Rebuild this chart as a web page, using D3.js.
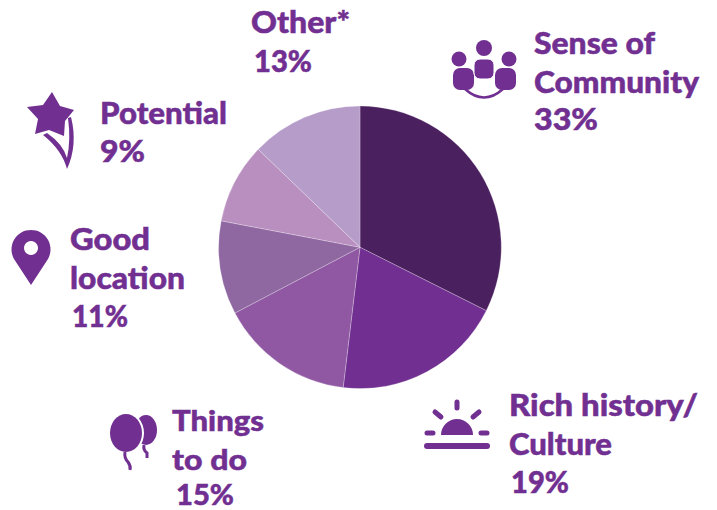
<!DOCTYPE html>
<html><head><meta charset="utf-8">
<style>html,body{margin:0;background:#fff}svg{display:block}</style>
<script src="https://cdn.jsdelivr.net/npm/d3@7"></script></head>
<body><script>
const categories=["Sense of Community","Rich history/Culture","Things to do","Good location","Potential","Other*"];
const statedPercent=["33%","19%","15%","11%","9%","13%"];
const sliceShares=[32.4,19.5,15.4,10.7,9.2,12.8];
const sliceColors=["#4a205f","#713091","#9058a3","#8f68a2","#b98fc0","#b69cc9"];
const nameLines=[["Sense of","Community"],["Rich history/","Culture"],["Things","to do"],["Good","location"],["Potential"],["Other*"]];
const labelX=[[534,534,534],[509,509,511],[172,172,176],[70,70,72],[100,100],[251,254]];
const labelY=[[54,93,130],[416,455,493],[431,470,505],[250,289,327],[124,162],[33,72]];
const labelW=[[121,165,64],[189,103,58],[92,75,58],[80,115,56],[127,45],[99,58]];
const W=717,H=510,cx=360,cy=247.3,R=141.3,ink="#713091";
const svg=d3.select("body").append("svg").attr("width",W).attr("height",H);
const pie=d3.pie().sort(null).value(d=>d)(sliceShares);
const arc=d3.arc().innerRadius(0).outerRadius(R);
svg.append("g").attr("transform",`translate(${cx},${cy})`).selectAll("path").data(pie).join("path")
  .attr("d",arc).attr("fill",(d,i)=>sliceColors[i]).attr("stroke","#fff").attr("stroke-width",0.25);
categories.forEach((c,i)=>{
  const lines=[...nameLines[i],statedPercent[i]];
  svg.append("g").attr("font-family","Lato").attr("font-weight",900).attr("font-size",i===2?29:30).attr("fill",ink)
   .attr("stroke",ink).attr("stroke-width",0.5)
   .selectAll("text").data(lines).join("text")
   .attr("x",(d,j)=>labelX[i][j]).attr("y",(d,j)=>labelY[i][j])
   .attr("textLength",(d,j)=>labelW[i][j]).attr("lengthAdjust","spacingAndGlyphs").text(d=>d);
});
const g=svg.append("g").attr("fill",ink);
// community icon
[[484,48,8],[459,59,7.5],[509,59,7.5]].forEach(c=>g.append("circle").attr("cx",c[0]).attr("cy",c[1]).attr("r",c[2]));
[[453,68,21,22,7],[495,68,21,22,7]].forEach(r=>g.append("rect").attr("x",r[0]).attr("y",r[1]).attr("width",r[2]).attr("height",r[3]).attr("rx",r[4]));
g.append("rect").attr("x",474).attr("y",59).attr("width",20).attr("height",20).attr("rx",6).attr("stroke","#fff").attr("stroke-width",1);
g.append("path").attr("d","M465,89Q484,106 503,89").attr("fill","none").attr("stroke",ink).attr("stroke-width",2.5);
// star icon
g.append("path").attr("d","M52,92L60,106L74,110L65,121L64,136L49,130L35,134L38,119L27,107L43,105Z");
g.append("path").attr("d","M43,135L47,133Q63,144 67,158Q71,140 68,118L71,117Q78,145 67,169Q62,150 43,135Z");
// pin icon
g.append("path").attr("fill-rule","evenodd").attr("d","M31,285L14,259A19.5,19.5 0 1 1 48,259ZM31,241a7,7 0 1 0 .01,0Z");
// balloons icon
g.append("ellipse").attr("cx",146).attr("cy",430).attr("rx",11).attr("ry",15);
g.append("ellipse").attr("cx",126).attr("cy",433).attr("rx",18).attr("ry",21).attr("fill","#fff");
g.append("ellipse").attr("cx",126).attr("cy",433).attr("rx",16).attr("ry",19);
g.append("path").attr("d","M125,452Q124,458 128,462Q131,466 130,470M144,445Q143,450 147,453L147,458").attr("fill","none").attr("stroke",ink).attr("stroke-width",3);
// sun icon
g.append("path").attr("d","M441,435A16,16 0 0 1 473,435Z");
g.append("path").attr("fill","none").attr("stroke",ink).attr("stroke-linecap","round").attr("stroke-width",5)
 .attr("d","M457,402V408M435,412L441,417M479,412L473,417M427,433H433M481,433H487");
g.append("path").attr("fill","none").attr("stroke",ink).attr("stroke-linecap","round").attr("stroke-width",6).attr("d","M427,446H487");
</script></body></html>
